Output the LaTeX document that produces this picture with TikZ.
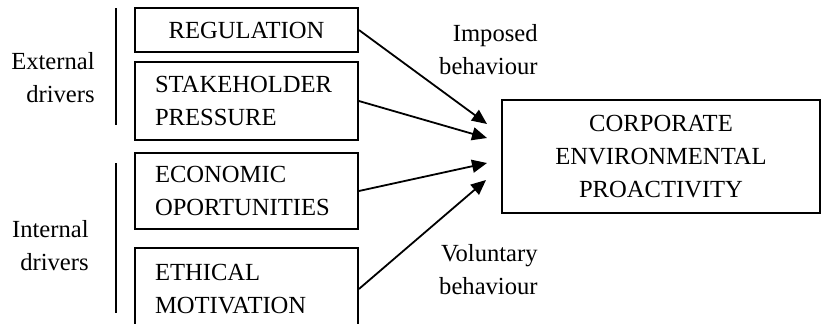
\documentclass[tikz,border=0pt]{standalone}
\usepackage{fontspec}
\setmainfont{Liberation Serif}
\usetikzlibrary{arrows.meta}
\begin{document}
\begin{tikzpicture}[x=0.5pt,y=-0.5pt,
  every node/.style={font=\fontsize{12.3}{16.5}\selectfont, inner sep=0pt},
  driverbox/.style={draw, line width=0.9pt, minimum width=111.5pt, text width=91.5pt, inner xsep=10pt, align=left},
  mainbox/.style={draw, line width=0.9pt, minimum width=159pt, minimum height=56.5pt, align=center},
  grouplabel/.style={align=right, anchor=east},
  groupline/.style={line width=0.9pt},
  driverarrow/.style={line width=0.9pt, -{Triangle[length=7.5pt,width=6.5pt]}}]
\useasboundingbox (0,0) rectangle (822,323);
% boxes
\node[driverbox, align=center, minimum height=22pt] (reg) at (246.5,30) {REGULATION};
\node[driverbox, minimum height=39pt] (stake) at (246.5,101) {STAKEHOLDER\\PRESSURE};
\node[driverbox, minimum height=38pt] (econ) at (246.5,191) {ECONOMIC\\OPORTUNITIES};
\node[driverbox, minimum height=41pt] (eth) at (246.5,289) {ETHICAL\\MOTIVATION};
\node[mainbox] (corp) at (661,156.5) {CORPORATE\\ENVIRONMENTAL\\PROACTIVITY};
% group labels and lines
\node[grouplabel] (ext) at (95,78) {External\\drivers};
\node[grouplabel] (int) at (89,246) {Internal\\drivers};
\coordinate (e1) at (116,8);
\coordinate (e2) at (116,125);
\coordinate (i1) at (116,163);
\coordinate (i2) at (116,313);
\draw[groupline] (e1) -- (e2);
\draw[groupline] (i1) -- (i2);
% behaviour labels
\node[grouplabel] (imp) at (538,50) {Imposed\\behaviour};
\node[grouplabel] (vol) at (538,270) {Voluntary\\behaviour};
% arrow tips
\coordinate (t1) at (487,124);
\coordinate (t2) at (487,138);
\coordinate (t3) at (487,163);
\coordinate (t4) at (486,180);
\draw[driverarrow] (reg.east) -- (t1);
\draw[driverarrow] (stake.east) -- (t2);
\draw[driverarrow] (econ.east) -- (t3);
\draw[driverarrow] (eth.east) -- (t4);
\end{tikzpicture}
\end{document}
